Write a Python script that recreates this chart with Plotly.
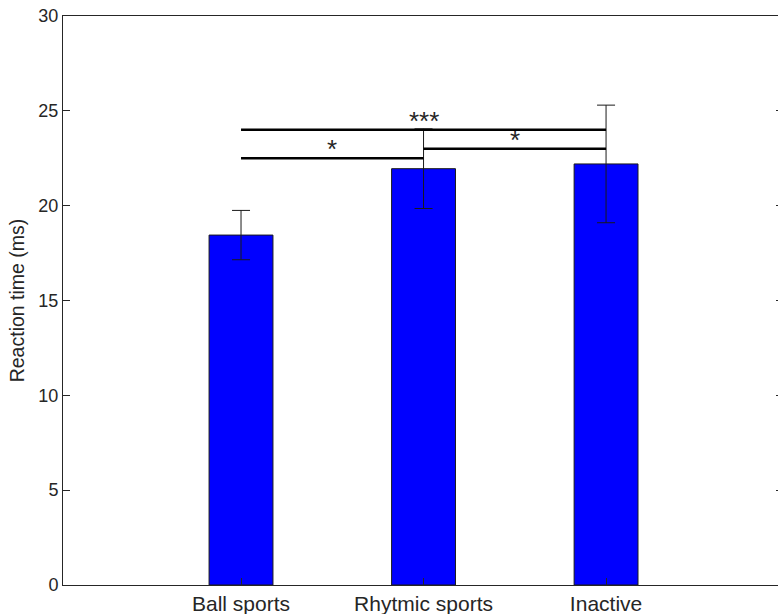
import plotly.graph_objects as go

categories = ["Ball sports", "Rhytmic sports", "Inactive"]
means = [18.45, 21.95, 22.2]
errors = [1.3, 2.1, 3.1]

# significance comparisons: (first bar index, second bar index, level, label)
sig_first = [0, 0, 1]
sig_second = [1, 2, 2]
sig_level = [22.5, 24.0, 23.0]
sig_label = ["*", "***", "*"]

y_ticks = [0, 5, 10, 15, 20, 25, 30]

xpos = [i + 1 for i in range(len(categories))]
axis_col = "#262626"
font_fam = "Liberation Sans, Arial, Helvetica, sans-serif"

fig = go.Figure()
fig.add_trace(go.Bar(
    x=xpos, y=means, width=0.35,
    marker=dict(color="#0000FF", line=dict(color="#1a1a1a", width=1)),
    error_y=dict(type="data", array=errors, visible=True, color="#1a1a1a", thickness=1, width=9),
    showlegend=False,
))

for a, b, lev, lab in zip(sig_first, sig_second, sig_level, sig_label):
    fig.add_trace(go.Scatter(
        x=[xpos[a], xpos[b]], y=[lev, lev], mode="lines",
        line=dict(color="black", width=2.5), showlegend=False, hoverinfo="skip",
    ))
    fig.add_annotation(
        x=(xpos[a] + xpos[b]) / 2, y=lev, text=lab, showarrow=False,
        yanchor="bottom", yshift=-8,
        font=dict(family=font_fam, size=26, color="#262626"),
    )

# invisible trace for right axis ticks
fig.add_trace(go.Scatter(x=[xpos[0]], y=[0], yaxis="y2", mode="markers",
                         marker=dict(opacity=0), showlegend=False, hoverinfo="skip"))

fig.update_layout(
    width=778, height=614,
    margin=dict(l=63, r=0, t=16, b=29),
    plot_bgcolor="white", paper_bgcolor="white",
    font=dict(family=font_fam, color=axis_col),
    xaxis=dict(
        range=[0.0247, 3.942], tickvals=xpos, ticktext=categories,
        ticks="inside", ticklen=7, tickcolor=axis_col,
        showline=True, linecolor=axis_col, linewidth=1, mirror=True,
        showgrid=False, zeroline=False,
        tickfont=dict(size=21, color=axis_col),
    ),
    yaxis=dict(
        range=[0, 30], tickvals=y_ticks,
        ticks="inside", ticklen=7, tickcolor=axis_col,
        showline=True, linecolor=axis_col, linewidth=1,
        showgrid=False, zeroline=False,
        tickfont=dict(size=18, color=axis_col),
        title=dict(text="Reaction time (ms)", font=dict(size=19.5, color=axis_col), standoff=8),
    ),
    yaxis2=dict(
        range=[0, 30], tickvals=y_ticks, overlaying="y", side="right",
        ticks="inside", ticklen=2, tickcolor=axis_col,
        showticklabels=False, showline=False, showgrid=False, zeroline=False,
    ),
)

fig.write_html(
    "out.html",
    config={"displayModeBar": False},
    post_script="document.body.style.margin='0';document.body.style.overflow='hidden';",
)
